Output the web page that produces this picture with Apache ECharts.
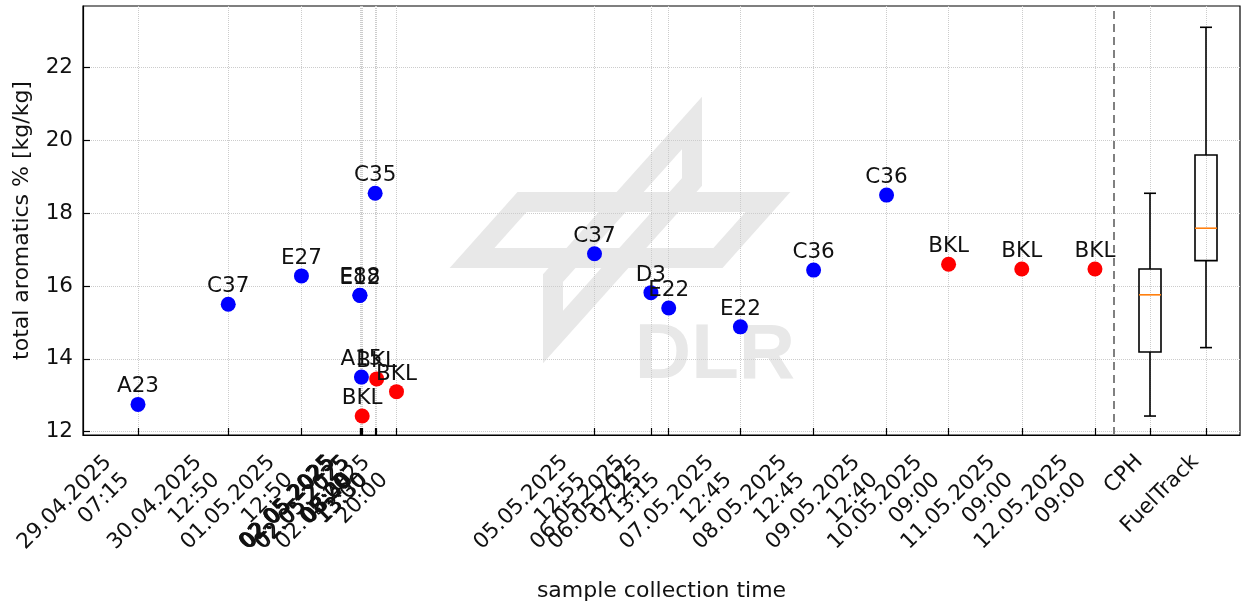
<!DOCTYPE html>
<html>
<head>
<meta charset="utf-8">
<script src="https://cdn.jsdelivr.net/npm/echarts@6/dist/echarts.min.js"></script>
<style>
  html, body { margin: 0; padding: 0; background: #fff; }
  #chart { width: 1241px; height: 608px; }
</style>
</head>
<body>
<div id="chart"></div>
<script>
// sample collection times, values and labels
const sampleTimes = [
  '29.04.2025 07:15', '30.04.2025 12:50', '01.05.2025 12:50',
  '02.05.2025 08:00', '02.05.2025 08:00', '02.05.2025 08:30', '02.05.2025 08:45',
  '02.05.2025 13:00', '02.05.2025 13:30', '02.05.2025 20:00',
  '05.05.2025 12:55', '06.05.2025 07:25', '06.05.2025 13:15', '07.05.2025 12:45',
  '08.05.2025 12:45', '09.05.2025 12:40', '10.05.2025 09:00', '11.05.2025 09:00',
  '12.05.2025 09:00'
];
const sampleValues = [
  12.75, 15.50, 16.28,
  15.75, 15.74, 13.50, 12.43,
  18.55, 13.45, 13.10,
  16.89, 15.82, 15.40, 14.88,
  16.44, 18.50, 16.60, 16.47,
  16.47
];
const sampleLabels = [
  'A23', 'C37', 'E27',
  'E88', 'E12', 'A15', 'BKL',
  'C35', 'BKL', 'BKL',
  'C37', 'D3', 'E22', 'E22',
  'C36', 'C36', 'BKL', 'BKL',
  'BKL'
];

// box plots: [min, Q1, median, Q3, max]
const boxNames = ['CPH', 'FuelTrack'];
const boxStats = [
  [12.43, 14.19, 15.76, 16.47, 18.55],
  [14.31, 16.70, 17.59, 19.60, 23.11]
];

const yTicks = [12, 14, 16, 18, 20, 22];
const xRange = ['28.04.2025 13:13', '14.05.2025 08:33'];
const yRange = [11.909, 23.695];
const separatorTime = '12.05.2025 15:00';

const FONT = 'DejaVu Sans';
const FS = 21.5;

function parseTime(s) {
  const [d, t] = s.split(' ');
  const [dd, mm, yy] = d.split('.').map(Number);
  const [hh, mi] = t.split(':').map(Number);
  return new Date(yy, mm - 1, dd, hh, mi).getTime();
}

function fmtTime(v) {
  const d = new Date(v);
  const p = n => String(n).padStart(2, '0');
  return p(d.getDate()) + '.' + p(d.getMonth() + 1) + '.' + d.getFullYear() + '\n' +
    p(d.getHours()) + ':' + p(d.getMinutes());
}

const tickTimes = sampleTimes.map(parseTime);
const points = sampleTimes.map((t, i) => ({ value: [parseTime(t), sampleValues[i]], name: sampleLabels[i] }));
const blueData = points.filter(p => p.name !== 'BKL');
const redData = points.filter(p => p.name === 'BKL');

const labelStyle = {
  show: true,
  position: 'top',
  distance: -1,
  formatter: p => p.name,
  color: '#111',
  fontFamily: FONT,
  fontSize: FS,
  lineHeight: 22
};

const tickLabel = {
  color: '#111',
  fontFamily: FONT,
  fontSize: FS,
  lineHeight: 25,
  showMinLabel: true,
  showMaxLabel: true,
  hideOverlap: false
};

const gridLine = { show: true, lineStyle: { color: '#cccccc', type: 'dotted', width: 1 } };
const tickLine = { color: '#000', width: 1.2 };

const chart = echarts.init(document.getElementById('chart'));

chart.setOption({
  animation: false,
  backgroundColor: '#fff',
  grid: [
    { left: 83, right: 1, top: 6, bottom: 173, show: true, borderColor: '#000', borderWidth: 1.2, backgroundColor: 'transparent' },
    { left: 1122, right: 7, top: 6, bottom: 173 }
  ],
  graphic: [
    {
      type: 'polygon', z: -10, silent: true,
      shape: { points: [[522, 202], [768, 202], [718, 258], [472, 258]] },
      style: { fill: 'none', stroke: '#e8e8e8', lineWidth: 20 }
    },
    {
      type: 'polygon', z: -10, silent: true,
      shape: { points: [[692, 123], [692, 182], [553, 337], [553, 278]] },
      style: { fill: 'none', stroke: '#e8e8e8', lineWidth: 20 }
    },
    {
      type: 'text', z: -10, silent: true,
      style: {
        text: 'DLR', x: 715, y: 356, align: 'center', verticalAlign: 'middle',
        font: 'bold 78px "Liberation Sans"', fill: '#e8e8e8'
      }
    }
  ],
  xAxis: [
    {
      gridIndex: 0,
      type: 'value',
      min: parseTime(xRange[0]),
      max: parseTime(xRange[1]),
      name: 'sample collection time',
      nameLocation: 'middle',
      nameGap: 145,
      nameTextStyle: { color: '#111', fontFamily: FONT, fontSize: 22 },
      axisLine: { show: true, lineStyle: tickLine },
      axisTick: { show: true, inside: true, length: 7, customValues: tickTimes, lineStyle: tickLine },
      axisLabel: Object.assign({ customValues: tickTimes, rotate: 45, margin: 12, padding: [0, 29.5, 0, 0], formatter: fmtTime }, tickLabel),
      splitLine: gridLine
    },
    {
      gridIndex: 1,
      type: 'value',
      min: -0.5,
      max: 1.5,
      axisLine: { show: false },
      axisTick: { show: true, inside: true, length: 7, customValues: [0, 1], lineStyle: tickLine },
      axisLabel: Object.assign({ customValues: [0, 1], rotate: 45, margin: 13, padding: [0, 15, 0, 0], formatter: v => boxNames[v] }, tickLabel),
      splitLine: gridLine
    }
  ],
  yAxis: [
    {
      gridIndex: 0,
      type: 'value',
      min: yRange[0],
      max: yRange[1],
      name: 'total aromatics % [kg/kg]',
      nameLocation: 'middle',
      nameGap: 50,
      nameTextStyle: { color: '#111', fontFamily: FONT, fontSize: 22 },
      axisLine: { show: true, lineStyle: tickLine },
      axisTick: { show: true, inside: true, length: 7, customValues: yTicks, lineStyle: tickLine },
      axisLabel: Object.assign({ customValues: yTicks, margin: 10 }, tickLabel),
      splitLine: gridLine
    },
    {
      gridIndex: 1,
      type: 'value',
      min: yRange[0],
      max: yRange[1],
      show: false
    }
  ],
  series: [
    {
      name: 'samples',
      type: 'scatter',
      xAxisIndex: 0,
      yAxisIndex: 0,
      data: blueData,
      symbolSize: 15,
      itemStyle: { color: '#0000ff', opacity: 1 },
      label: labelStyle,
      markLine: {
        silent: true,
        symbol: ['none', 'none'],
        label: { show: false },
        lineStyle: { color: '#808080', type: [8, 5], width: 2 },
        data: [{ xAxis: parseTime(separatorTime) }]
      },
      z: 3
    },
    {
      name: 'BKL',
      type: 'scatter',
      xAxisIndex: 0,
      yAxisIndex: 0,
      data: redData,
      symbolSize: 15,
      itemStyle: { color: '#ff0000', opacity: 1 },
      label: labelStyle,
      z: 3
    },
    {
      name: 'boxes',
      type: 'custom',
      xAxisIndex: 1,
      yAxisIndex: 1,
      data: boxStats.map((s, i) => [i].concat(s)),
      renderItem: function (params, api) {
        const i = api.value(0);
        const lo = api.coord([i, api.value(1)]);
        const q1 = api.coord([i, api.value(2)]);
        const med = api.coord([i, api.value(3)]);
        const q3 = api.coord([i, api.value(4)]);
        const hi = api.coord([i, api.value(5)]);
        const x = lo[0], hw = 11, cw = 6;
        const line = (x1, y1, x2, y2, stroke) => ({
          type: 'line', shape: { x1, y1, x2, y2 }, style: { stroke: stroke || '#000', lineWidth: 1.6 }
        });
        return {
          type: 'group',
          children: [
            line(x, q3[1], x, hi[1]),
            line(x, q1[1], x, lo[1]),
            line(x - cw, hi[1], x + cw, hi[1]),
            line(x - cw, lo[1], x + cw, lo[1]),
            { type: 'rect', shape: { x: x - hw, y: q3[1], width: 2 * hw, height: q1[1] - q3[1] },
              style: { fill: 'none', stroke: '#000', lineWidth: 1.6 } },
            line(x - hw, med[1], x + hw, med[1], '#ff7f0e')
          ]
        };
      },
      z: 3
    }
  ]
});
</script>
</body>
</html>
